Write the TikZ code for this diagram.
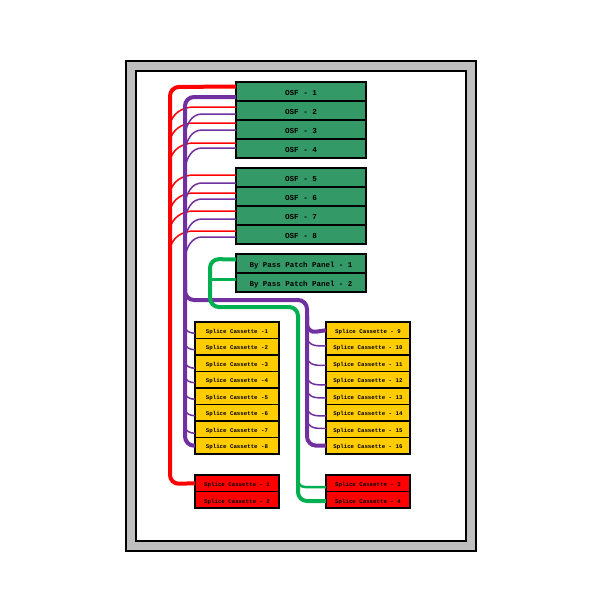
\documentclass[tikz,border=0pt]{standalone}
\usepackage{fontspec}
\setmainfont{Liberation Mono}
\definecolor{boxgreen}{HTML}{339966}
\definecolor{boxyellow}{HTML}{FFCC00}
\definecolor{fibrepurple}{HTML}{7030A0}
\definecolor{fibregreen}{HTML}{00B050}
\def\dfat{\draw[line width=4pt,rounded corners=9pt]}
\def\dthin{\draw[line width=1.5pt]}
\tikzset{
    panel/.style={draw=black,line width=1.3pt,anchor=north west,inner sep=0pt,outer sep=0pt,text depth=0pt},
    osfbox/.style={panel,fill=boxgreen,minimum width=130pt,minimum height=19pt,text height=7.6pt,font=\fontsize{7.6}{9}\bfseries\selectfont},
    splicebox/.style={panel,fill=boxyellow,minimum width=84pt,minimum height=16.5pt,text height=5.7pt,font=\fontsize{5.75}{7}\bfseries\selectfont},
    spareBox/.style={panel,fill=red,minimum width=84pt,minimum height=16.5pt,text height=7pt,font=\fontsize{5.75}{7}\bfseries\selectfont},
}
\begin{document}
\begin{tikzpicture}[x=1pt,y=-1pt]
    \useasboundingbox (0,0) rectangle (600,600);
    \draw[line width=1.3pt,fill=black!25] (126,61) rectangle (476,551);
    \draw[line width=1.3pt,fill=white] (136,71) rectangle (466,541);
    % osf trays
    \foreach \n/\y in {1/82,2/101,3/120,4/139,5/168,6/187,7/206,8/225}
        \node[osfbox] (osf\n) at (236,\y) {OSF - \n};
    \foreach \n/\y in {1/254,2/273}
        \node[osfbox,font=\fontsize{7.45}{9}\bfseries\selectfont] (bypass\n) at (236,\y) {By Pass Patch Panel - \n};
    % splice cassettes
    \foreach \n/\y in {1/322,2/338.5,3/355,4/371.5,5/388,6/404.5,7/421,8/437.5}
        \node[splicebox] (left\n) at (195,\y) {Splice Cassette -\n};
    \foreach \n/\y in {9/322,10/338.5,11/355,12/371.5,13/388,14/404.5,15/421,16/437.5}
        \node[splicebox] (right\n) at (326,\y) {Splice Cassette - \n};
    \node[spareBox] (spare1) at (195,475) {Splice Cassette - 1};
    \node[spareBox] (spare2) at (195,491.5) {Splice Cassette - 2};
    \node[spareBox] (spare3) at (326,475) {Splice Cassette - 3};
    \node[spareBox] (spare4) at (326,491.5) {Splice Cassette - 4};
    % bends of the trunks
    \coordinate (redtop) at (170,87);
    \coordinate (redlow) at (170,484);
    \coordinate (purpletop) at (185,97);
    \coordinate (purplelow) at (185,445.5);
    \coordinate (purplefork) at (185,300);
    \coordinate (purplecross) at (307,300);
    \coordinate (purplenine) at (307,333);
    \coordinate (purpleright) at (307,445.5);
    \coordinate (greentop) at (210,259);
    \coordinate (greenmid) at (210,307);
    \coordinate (greenturn) at (298,307);
    \coordinate (greenlow) at (298,487);
    \coordinate (greenend) at (298,501);
    % red trunk
    \dfat[red] ([yshift=5pt]osf1.west) -- (redtop) -- (redlow) -- (spare1.west);
    \foreach \n/\d in {2/3.5,3/6.5,4/5.5,5/2.5,6/3.5,7/4.5,8/3.5}
        \dthin[red] ([yshift=\d pt]osf\n.west) -- ++(-42,0) to[out=180,in=80] ++(-24,18);
    % purple trunks
    \dfat[fibrepurple] ([yshift=-5.5pt]osf1.west) -- (purpletop) -- (purplelow) -- (left8.west);
    \dfat[fibrepurple] (185,280) -- (purplefork) -- (purplecross) -- (purplenine) -- (right9.west);
    \dfat[fibrepurple] (307,316) -- (purpleright) -- (right16.west);
    \foreach \n/\d in {2/-3.5,3/-0.5,4/0.5,5/-5.5,6/-2.5,7/-3.5,8/-2.5}
        \dthin[fibrepurple] ([yshift=\d pt]osf\n.west) -- ++(-34,0) to[out=180,in=80] ++(-17,20);
    \foreach \n/\d in {1/-3,2/-3,3/-5,4/-3,5/-3,6/-3,7/-4}
        \dthin[fibrepurple] ([yshift=\d pt]left\n.west) to[out=180,in=-70] ++(-11,-7);
    \foreach \n/\d in {10/1,11/-2,12/-5,13/-1.5,14/-3,15/1}
        \dthin[fibrepurple] ([yshift=\d pt]right\n.west) -- ++(-8,0) to[out=180,in=-70] ++(-11,-7);
    % green by pass
    \dfat[fibregreen] ([yshift=4pt]bypass1.west) -- (greentop) -- (greenmid) -- (greenturn) -- (greenend) -- (spare4.west |- greenend);
    \draw[fibregreen,line width=3pt] ([yshift=3pt]bypass2.west) -- ([yshift=3pt]bypass2.west -| greentop);
    \draw[fibregreen,line width=2.5pt,rounded corners=7pt] (298,472) -- (greenlow) -- (spare3.west |- greenlow);
\end{tikzpicture}
\end{document}
